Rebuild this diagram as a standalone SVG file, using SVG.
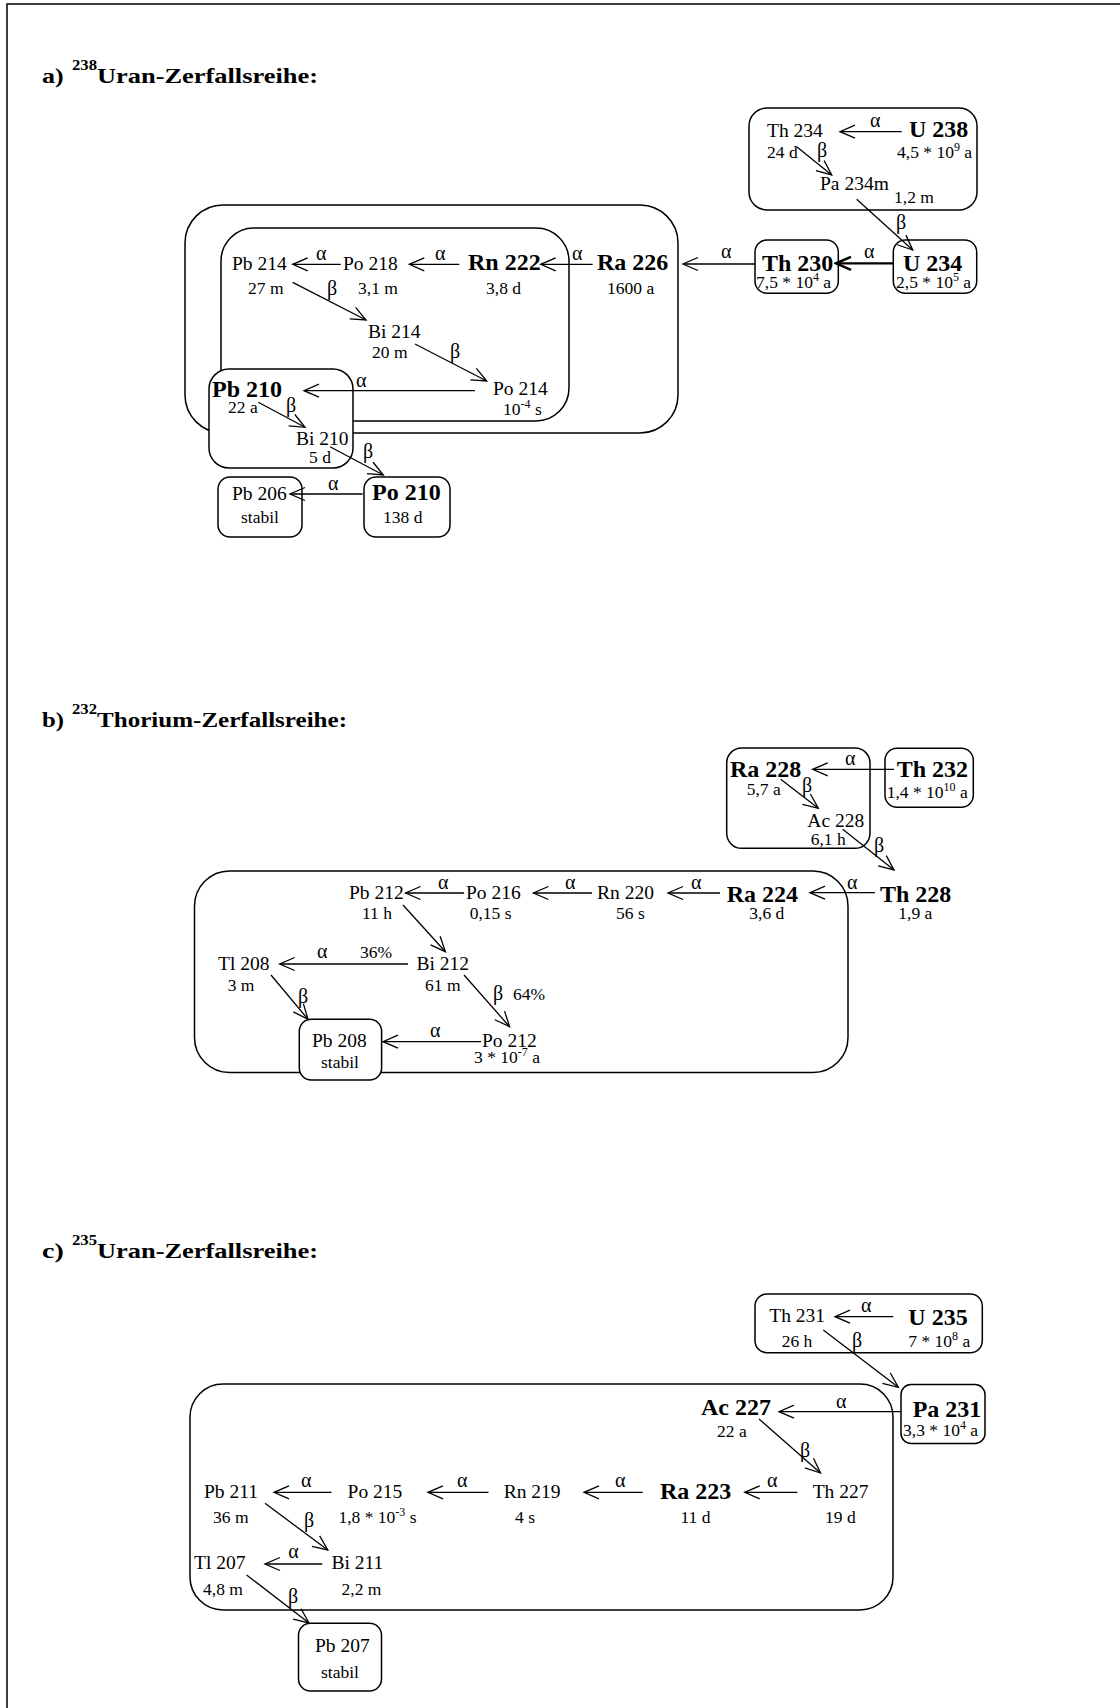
<svg xmlns="http://www.w3.org/2000/svg" width="1120" height="1708" viewBox="0 0 1120 1708">
<defs>
<style>
text{font-family:"Liberation Serif","Times New Roman",serif;fill:#000}
.n{font-size:19.5px}
.b{font-size:24px;font-weight:bold}
.h{font-size:17.5px}
.g{font-size:20px}
.t{font-size:21px;font-weight:bold}
.ts{font-size:14px;font-weight:bold}
.box{fill:#fff;stroke:#000;stroke-width:1.5}
.big{fill:none;stroke:#000;stroke-width:1.5}
.ar{fill:none;stroke:#000;stroke-width:1.3;marker-end:url(#ah)}
.ark{fill:none;stroke:#000;stroke-width:2.2;marker-end:url(#ahk)}
</style>
<marker id="ah" viewBox="-17 -9 19 18" refX="0" refY="0" markerWidth="19" markerHeight="18" orient="auto" markerUnits="userSpaceOnUse"><path d="M-15,-6.5 L0,0 L-15,6.5" fill="none" stroke="#000" stroke-width="1.3"/></marker>
<marker id="ahk" viewBox="-17 -9 19 18" refX="0" refY="0" markerWidth="19" markerHeight="18" orient="auto" markerUnits="userSpaceOnUse"><path d="M-15,-6.5 L0,0 L-15,6.5" fill="none" stroke="#000" stroke-width="2.4"/></marker>
</defs>
<rect width="1120" height="1708" fill="#fff"/>
<g id="frame"><path d="M7,1708 V4 H1120" fill="none" stroke="#000" stroke-width="1.5"/></g>

<g id="titles">
<text class="t" x="42" y="83" textLength="21.7" lengthAdjust="spacingAndGlyphs">a)</text>
<text class="ts" x="72" y="70" textLength="25" lengthAdjust="spacingAndGlyphs">238</text>
<text class="t" x="97" y="83" textLength="221" lengthAdjust="spacingAndGlyphs">Uran-Zerfallsreihe:</text>
<text class="t" x="42" y="727" textLength="22" lengthAdjust="spacingAndGlyphs">b)</text>
<text class="ts" x="72" y="714" textLength="25" lengthAdjust="spacingAndGlyphs">232</text>
<text class="t" x="97" y="727" textLength="250" lengthAdjust="spacingAndGlyphs">Thorium-Zerfallsreihe:</text>
<text class="t" x="42" y="1258" textLength="21.7" lengthAdjust="spacingAndGlyphs">c)</text>
<text class="ts" x="72" y="1245" textLength="25" lengthAdjust="spacingAndGlyphs">235</text>
<text class="t" x="97" y="1258" textLength="221" lengthAdjust="spacingAndGlyphs">Uran-Zerfallsreihe:</text>
</g>

<!-- group boxes -->
<g id="groups">
<rect class="big" x="185" y="205" width="493" height="228" rx="38"/>
<rect class="big" x="221" y="228" width="348" height="193" rx="33"/>
<rect class="big" x="194.5" y="871" width="653.5" height="201.5" rx="35"/>
<rect class="big" x="190" y="1384" width="703" height="226" rx="33"/>
</g>

<!-- section a nodes -->
<g id="box-a-top"><rect class="big" x="749" y="108" width="228" height="102" rx="18"/></g>
<g id="n-U238"><text class="b" x="909" y="137">U 238</text><text class="h" x="897" y="158">4,5 * 10<tspan dy="-7" font-size="12">9</tspan><tspan dy="7"> a</tspan></text></g>
<g id="n-Th234"><text class="n" x="767" y="137">Th 234</text><text class="h" x="767" y="158">24 d</text></g>
<g id="n-Pa234m"><text class="n" x="820" y="190">Pa 234m</text><text class="h" x="894" y="203">1,2 m</text></g>
<g id="n-U234"><rect class="box" x="893.3" y="240" width="83.4" height="53.3" rx="12"/><text class="b" x="903" y="270.7">U 234</text><text class="h" x="896" y="288">2,5 * 10<tspan dy="-7" font-size="12">5</tspan><tspan dy="7"> a</tspan></text></g>
<g id="n-Th230"><rect class="box" x="755" y="240" width="83.3" height="53.3" rx="12"/><text class="b" x="762" y="270.7">Th 230</text><text class="h" x="756" y="288">7,5 * 10<tspan dy="-7" font-size="12">4</tspan><tspan dy="7"> a</tspan></text></g>
<g id="n-Ra226"><text class="b" x="597" y="270">Ra 226</text><text class="h" x="607" y="294">1600 a</text></g>
<g id="n-Rn222"><text class="b" x="468" y="270">Rn 222</text><text class="h" x="486" y="294">3,8 d</text></g>
<g id="n-Po218"><text class="n" x="343" y="270">Po 218</text><text class="h" x="358" y="294">3,1 m</text></g>
<g id="n-Pb214"><text class="n" x="232" y="270">Pb 214</text><text class="h" x="248" y="294">27 m</text></g>
<g id="n-Bi214"><text class="n" x="368" y="338.3">Bi 214</text><text class="h" x="372" y="357.7">20 m</text></g>
<g id="n-Po214"><text class="n" x="493" y="395">Po 214</text><text class="h" x="503" y="415">10<tspan dy="-7" font-size="12">-4</tspan><tspan dy="7"> s</tspan></text></g>
<g id="n-Pb210"><rect class="box" x="209" y="369" width="144" height="99" rx="20"/><text class="b" x="212" y="396.7">Pb 210</text><text class="h" x="228" y="413.3">22 a</text></g>
<g id="n-Bi210"><text class="n" x="296" y="445">Bi 210</text><text class="h" x="309" y="463.3">5 d</text></g>
<g id="n-Pb206"><rect class="box" x="218" y="477" width="84" height="60" rx="12"/><text class="n" x="232" y="500">Pb 206</text><text class="h" x="241" y="523.3">stabil</text></g>
<g id="n-Po210"><rect class="box" x="364" y="477" width="86" height="60" rx="12"/><text class="b" x="372" y="500">Po 210</text><text class="h" x="383" y="523.3">138 d</text></g>

<!-- section b nodes -->
<g id="box-b-top"><rect class="big" x="726.7" y="748" width="143.3" height="100.3" rx="15"/></g>
<g id="n-Th232"><rect class="box" x="885" y="748.3" width="88.3" height="59" rx="12"/><text class="b" x="896.7" y="777.3">Th 232</text><text class="h" x="886.7" y="798.3">1,4 * 10<tspan dy="-7" font-size="12">10</tspan><tspan dy="7"> a</tspan></text></g>
<g id="n-Ra228"><text class="b" x="730" y="777.3">Ra 228</text><text class="h" x="746.7" y="795">5,7 a</text></g>
<g id="n-Ac228"><text class="n" x="807.3" y="826.7">Ac 228</text><text class="h" x="810.7" y="845">6,1 h</text></g>
<g id="n-Th228"><text class="b" x="880" y="901.7">Th 228</text><text class="h" x="898.3" y="919.3">1,9 a</text></g>
<g id="n-Ra224"><text class="b" x="726.7" y="901.7">Ra 224</text><text class="h" x="749.3" y="919.3">3,6 d</text></g>
<g id="n-Rn220"><text class="n" x="597" y="898.7">Rn 220</text><text class="h" x="616" y="918.5">56 s</text></g>
<g id="n-Po216"><text class="n" x="466" y="898.7">Po 216</text><text class="h" x="469.7" y="918.5">0,15 s</text></g>
<g id="n-Pb212"><text class="n" x="349" y="898.7">Pb 212</text><text class="h" x="362" y="918.5">11 h</text></g>
<g id="n-Bi212"><text class="n" x="416.5" y="970">Bi 212</text><text class="h" x="425" y="990.7">61 m</text></g>
<g id="n-Tl208"><text class="n" x="218" y="970">Tl 208</text><text class="h" x="227.7" y="990.7">3 m</text></g>
<g id="n-Po212"><text class="n" x="482" y="1046.7">Po 212</text><text class="h" x="474" y="1063.3">3 * 10<tspan dy="-7" font-size="12">-7</tspan><tspan dy="7"> a</tspan></text></g>
<g id="n-Pb208"><rect class="box" x="299.3" y="1019.3" width="82.3" height="60.7" rx="12"/><text class="n" x="312" y="1046.7">Pb 208</text><text class="h" x="321" y="1068.3">stabil</text></g>

<!-- section c nodes -->
<g id="box-c-top"><rect class="big" x="755" y="1294" width="227.3" height="58.7" rx="12"/></g>
<g id="n-U235"><text class="b" x="908.3" y="1325">U 235</text><text class="h" x="908.3" y="1346.7">7 * 10<tspan dy="-7" font-size="12">8</tspan><tspan dy="7"> a</tspan></text></g>
<g id="n-Th231"><text class="n" x="769.3" y="1321.7">Th 231</text><text class="h" x="781.7" y="1346.7">26 h</text></g>
<g id="n-Pa231"><rect class="box" x="901" y="1384.5" width="84" height="59" rx="10"/><text class="b" x="912.7" y="1416.7">Pa 231</text><text class="h" x="903" y="1436">3,3 * 10<tspan dy="-7" font-size="12">4</tspan><tspan dy="7"> a</tspan></text></g>
<g id="n-Ac227"><text class="b" x="701" y="1415">Ac 227</text><text class="h" x="717" y="1436.7">22 a</text></g>
<g id="n-Th227"><text class="n" x="812.7" y="1498.3">Th 227</text><text class="h" x="825" y="1523.3">19 d</text></g>
<g id="n-Ra223"><text class="b" x="660" y="1499.3">Ra 223</text><text class="h" x="680.5" y="1523.3">11 d</text></g>
<g id="n-Rn219"><text class="n" x="503.7" y="1498.3">Rn 219</text><text class="h" x="515" y="1523.3">4 s</text></g>
<g id="n-Po215"><text class="n" x="347.6" y="1498.3">Po 215</text><text class="h" x="338.4" y="1523.3">1,8 * 10<tspan dy="-7" font-size="12">-3</tspan><tspan dy="7"> s</tspan></text></g>
<g id="n-Pb211"><text class="n" x="204" y="1498.3">Pb 211</text><text class="h" x="213" y="1523.3">36 m</text></g>
<g id="n-Bi211"><text class="n" x="331.5" y="1569.3">Bi 211</text><text class="h" x="341.6" y="1595">2,2 m</text></g>
<g id="n-Tl207"><text class="n" x="194" y="1569.3">Tl 207</text><text class="h" x="203" y="1595">4,8 m</text></g>
<g id="n-Pb207"><rect class="box" x="298.5" y="1623.3" width="83" height="67.7" rx="12"/><text class="n" x="315" y="1651.7">Pb 207</text><text class="h" x="321" y="1677.8">stabil</text></g>

<g id="connectors">
<!-- a -->
<path class="ar" d="M901.7,131.7 H840"/><text class="g" x="870" y="127">α</text>
<path class="ar" d="M796.7,146.7 L831.7,175"/><text class="g" x="817" y="157">β</text>
<path class="ar" d="M856.7,199.3 L912.7,250"/><text class="g" x="896" y="229">β</text>
<path class="ark" d="M893.3,263.3 H836"/><text class="g" x="864" y="258">α</text>
<path class="ar" d="M755,264 H683"/><text class="g" x="721" y="258">α</text>
<path class="ar" d="M592.7,264.3 H540.7"/><text class="g" x="572" y="260">α</text>
<path class="ar" d="M459.3,264.3 H409.3"/><text class="g" x="435" y="260">α</text>
<path class="ar" d="M340.7,264.3 H292.7"/><text class="g" x="316" y="260">α</text>
<path class="ar" d="M292.7,282.3 L366,320"/><text class="g" x="327" y="295">β</text>
<path class="ar" d="M415,344 L486.7,381"/><text class="g" x="450" y="357.7">β</text>
<path class="ar" d="M475,390.7 H304"/><text class="g" x="356" y="386.7">α</text>
<path class="ar" d="M258.3,402.3 L305,427.3"/><text class="g" x="286" y="411.7">β</text>
<path class="ar" d="M330,446.7 L383.3,475"/><text class="g" x="363" y="458">β</text>
<path class="ar" d="M362.7,494 H290"/><text class="g" x="328" y="490">α</text>
<!-- b -->
<path class="ar" d="M894,769.3 H812.7"/><text class="g" x="845" y="765">α</text>
<path class="ar" d="M780.7,779.3 L818.3,808.3"/><text class="g" x="802" y="791.7">β</text>
<path class="ar" d="M842.7,829.3 L894,870"/><text class="g" x="874" y="851.7">β</text>
<path class="ar" d="M875,892.7 H810"/><text class="g" x="847" y="889">α</text>
<path class="ar" d="M720,893 H668"/><text class="g" x="691" y="889">α</text>
<path class="ar" d="M592,893 H533.4"/><text class="g" x="565" y="889">α</text>
<path class="ar" d="M464,893 H405.5"/><text class="g" x="438" y="889">α</text>
<path class="ar" d="M403,905 L445.4,951.7"/>
<path class="ar" d="M408,964 H279.7"/><text class="g" x="317" y="958.3">α</text><text class="h" x="360" y="958.3">36%</text>
<path class="ar" d="M271,975 L308,1019.3"/><text class="g" x="298" y="1003">β</text>
<path class="ar" d="M464,975 L509.6,1026.7"/><text class="g" x="493" y="1000">β</text><text class="h" x="513" y="1000">64%</text>
<path class="ar" d="M481,1041.7 H383"/><text class="g" x="430" y="1036.7">α</text>
<!-- c -->
<path class="ar" d="M893.3,1316.7 H835"/><text class="g" x="861" y="1311.7">α</text>
<path class="ar" d="M823.3,1330 L898.3,1387.3"/><text class="g" x="852" y="1346.7">β</text>
<path class="ar" d="M901,1411.7 H779"/><text class="g" x="836" y="1408.3">α</text>
<path class="ar" d="M759,1419 L820.5,1473"/><text class="g" x="800" y="1457">β</text>
<path class="ar" d="M797.5,1492.3 H744.7"/><text class="g" x="767" y="1486.7">α</text>
<path class="ar" d="M642.8,1492.3 H584"/><text class="g" x="615" y="1486.7">α</text>
<path class="ar" d="M488.5,1492.3 H428"/><text class="g" x="457" y="1486.7">α</text>
<path class="ar" d="M331.5,1492.3 H274"/><text class="g" x="301" y="1486.7">α</text>
<path class="ar" d="M265,1503.3 L327.8,1550"/><text class="g" x="304" y="1526.7">β</text>
<path class="ar" d="M322.3,1564 H265"/><text class="g" x="288.3" y="1558.3">α</text>
<path class="ar" d="M246.6,1575 L309,1623"/><text class="g" x="288" y="1603.3">β</text>
</g>
</svg>
